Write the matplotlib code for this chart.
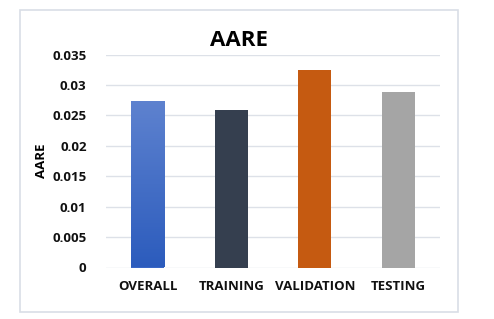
import numpy as np
import matplotlib
matplotlib.use('Agg')
from matplotlib import pyplot as plt
from matplotlib.colors import LinearSegmentedColormap
from matplotlib.patches import Rectangle

categories = ['OVERALL', 'TRAINING', 'VALIDATION', 'TESTING']
aare_values = [0.02735, 0.0259, 0.03245, 0.02885]
bar_colors = ['#3A67C6', '#353F4F', '#C55A11', '#A5A5A5']
y_ticks = [0, 0.005, 0.01, 0.015, 0.02, 0.025, 0.03, 0.035]
y_tick_labels = ['0', '0.005', '0.01', '0.015', '0.02', '0.025', '0.03', '0.035']

plt.rcParams['font.family'] = ['Open Sans', 'DejaVu Sans']

fig = plt.figure(figsize=(4.94, 3.19), dpi=100)
# light border around the chart area
fig.patches.append(Rectangle((20/494, 1 - 312/319), 438/494, 302/319, transform=fig.transFigure,
                             fill=False, edgecolor='#D9DEE6', linewidth=1.2))

ax = fig.add_axes([106/494, 1 - 267.5/319, 334/494, 213/319])
x = np.arange(len(categories))
bars = ax.bar(x, aare_values, width=0.4, color=bar_colors, zorder=3)

# gradient on the first bar
grad = LinearSegmentedColormap.from_list('blue_grad', ['#2C5CBD', '#5E82CF'])
b0 = bars[0]
x0, w = b0.get_x(), b0.get_width()
img = ax.imshow(np.linspace(0, 1, 100).reshape(-1, 1), cmap=grad, origin='lower', aspect='auto',
                extent=(x0, x0 + w, 0, b0.get_height()), zorder=4)
img.set_clip_path(b0)

ax.set_xlim(-0.5, 3.5)
ax.set_ylim(0, 0.035)
ax.set_yticks(y_ticks)
ax.set_yticklabels(y_tick_labels)
ax.set_xticks(x)
ax.set_xticklabels(categories)
ax.yaxis.grid(True, color='#DDE1E8', linewidth=1.0, zorder=0)
ax.set_axisbelow(True)
for s in ax.spines.values():
    s.set_visible(False)
ax.tick_params(length=0, labelsize=9.5, colors='#111111')
ax.tick_params(axis='y', pad=14)
ax.tick_params(axis='x', pad=9)
for lab in ax.get_xticklabels() + ax.get_yticklabels():
    lab.set_fontweight('bold')

ax.set_ylabel('AARE', fontsize=9.5, fontweight='bold', labelpad=3)
fig.text(239/494, 1 - 40/319, 'AARE', ha='center', va='center', fontsize=16, fontweight='bold')

fig.savefig('out.png', dpi=100, facecolor='white')
